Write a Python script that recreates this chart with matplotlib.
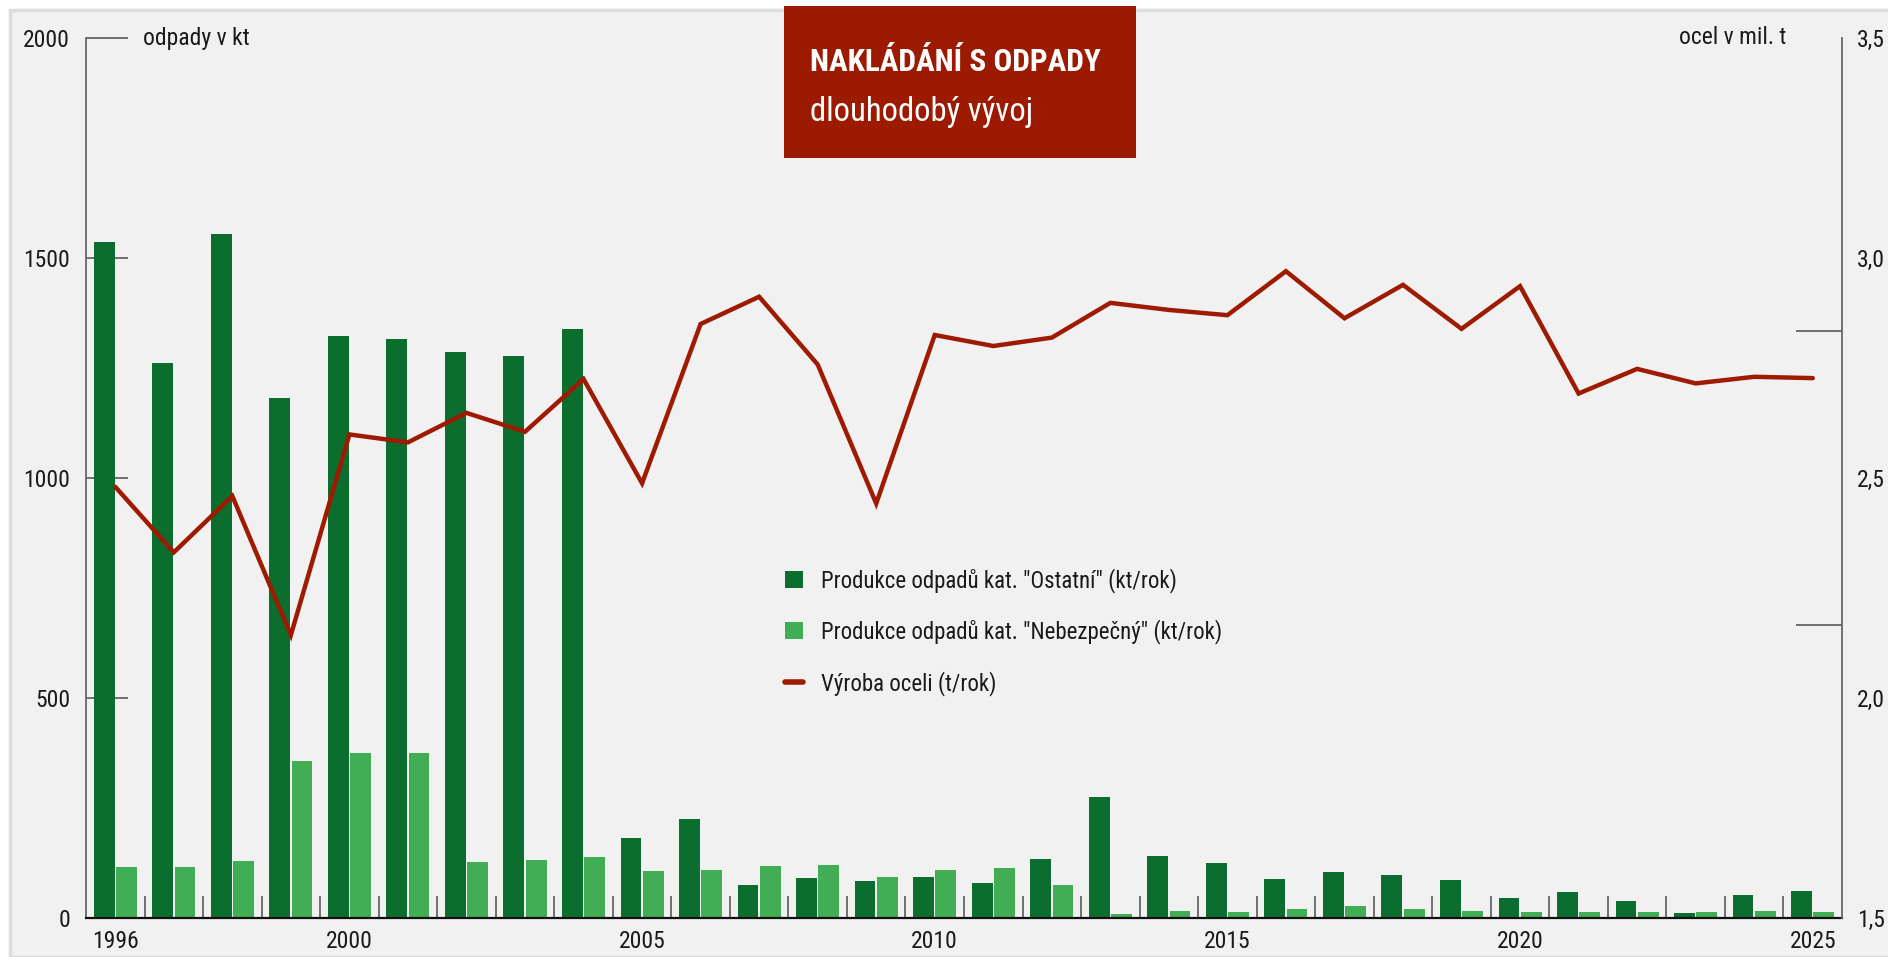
import matplotlib
matplotlib.use("Agg")
import matplotlib.pyplot as plt
from matplotlib import font_manager
from matplotlib.patches import Rectangle, Patch
from matplotlib.lines import Line2D
from matplotlib.ticker import FixedLocator

# data
years = list(range(1996, 2026))
ostatni = [1536, 1261, 1555, 1182, 1323, 1316, 1286, 1277, 1339, 182,
           225, 76, 92, 85, 94, 80, 135, 275, 142, 126,
           89, 105, 98, 87, 46, 58, 39, 12, 53, 62]
nebezpecny = [115, 117, 130, 357, 376, 376, 127, 131, 138, 106,
              110, 119, 121, 94, 110, 114, 76, 8, 17, 14,
              21, 28, 21, 17, 14, 14, 14, 14, 17, 14]
ocel = [2.480, 2.331, 2.459, 2.143, 2.599, 2.581, 2.648, 2.605, 2.725, 2.488,
        2.850, 2.912, 2.758, 2.442, 2.825, 2.800, 2.819, 2.898, 2.882, 2.870,
        2.970, 2.863, 2.939, 2.839, 2.936, 2.692, 2.748, 2.715, 2.730, 2.727]

year_labels = [1996, 2000, 2005, 2010, 2015, 2020, 2025]
left_ticks = [0, 500, 1000, 1500, 2000]
right_ticks = [1.5, 2.0, 2.5, 3.0, 3.5]

label_ostatni = 'Produkce odpadů kat. "Ostatní" (kt/rok)'
label_nebezp = 'Produkce odpadů kat. "Nebezpečný" (kt/rok)'
label_ocel = "Výroba oceli (t/rok)"

DARK = "#0b6e2e"
LIGHT = "#41ae55"
RED = "#9e1a00"
BG = "#f1f1f1"
AXC = "#666666"
TXT = "#1a1a1a"
FS = 17

# font: condensed if available
names = {f.name for f in font_manager.fontManager.ttflist}
for fam in ["Roboto Condensed", "Liberation Sans Narrow"]:
    if fam in names:
        plt.rcParams["font.family"] = [fam, "DejaVu Sans"]
        break
else:
    plt.rcParams["font.family"] = ["DejaVu Sans"]
    plt.rcParams["font.stretch"] = "condensed"

W, H = 1888, 957
fig = plt.figure(figsize=(W / 100, H / 100), dpi=100, facecolor="white")


def fx(px):
    return px / W


def fy(py):
    return 1 - py / H


# grey panel
fig.patches.append(Rectangle((fx(10), 0), 1, fy(10), transform=fig.transFigure,
                             facecolor=BG, edgecolor="#dcdcdc", linewidth=2.5, zorder=0))

ax = fig.add_axes([fx(86), fy(918), (1842 - 86) / W, (918 - 38) / H])
ax.set_zorder(1)
ax.patch.set_alpha(0)
ax.set_xlim(1995.5, 2025.5)
ax.set_ylim(0, 2000)

xs = [y - 0.19 for y in years]
xs2 = [y + 0.19 for y in years]
ax.bar(xs, ostatni, width=0.355, color=DARK, linewidth=0, zorder=2)
ax.bar(xs2, nebezpecny, width=0.355, color=LIGHT, linewidth=0, zorder=2)

for s in ["top", "right"]:
    ax.spines[s].set_visible(False)
ax.spines["left"].set_color(AXC)
ax.spines["left"].set_linewidth(1.3)
ax.spines["bottom"].set_color("#111111")
ax.spines["bottom"].set_linewidth(1.6)
ax.spines["bottom"].set_zorder(5)

ax.set_yticks(left_ticks)
ax.set_yticklabels([str(v) for v in left_ticks])
ax.tick_params(axis="y", direction="in", length=30, width=1.3, color=AXC,
               pad=11.5, labelsize=FS, labelcolor=TXT)
ax.set_xticks(year_labels)
ax.set_xticklabels([str(v) for v in year_labels])
ax.xaxis.set_minor_locator(FixedLocator([y + 0.5 for y in years[:-1]]))
ax.tick_params(axis="x", which="major", length=0, pad=9, labelsize=FS, labelcolor=TXT)
ax.tick_params(axis="x", which="minor", direction="in", length=16, width=1.3, color=AXC)

ax2 = ax.twinx()
ax2.set_zorder(2)
ax2.patch.set_visible(False)
ax2.set_ylim(1.5, 3.5)
ax2.plot(years, ocel, color=RED, linewidth=3.2, solid_joinstyle="miter",
         solid_capstyle="round", zorder=4)
for s in ["top", "left", "bottom"]:
    ax2.spines[s].set_visible(False)
ax2.spines["right"].set_color(AXC)
ax2.spines["right"].set_linewidth(1.3)
ax2.set_yticks(right_ticks)
ax2.set_yticklabels([f"{v:.1f}".replace(".", ",") for v in right_ticks])
ax2.yaxis.set_minor_locator(FixedLocator([1.5 + 2 / 3, 1.5 + 4 / 3, 3.5]))
ax2.tick_params(axis="y", which="major", length=0, pad=11, labelsize=FS, labelcolor=TXT)
ax2.tick_params(axis="y", which="minor", direction="in", length=33, width=1.3, color=AXC)

# axis titles
fig.text(fx(143), fy(38), "odpady v kt", fontsize=FS, color=TXT, ha="left", va="center")
fig.text(fx(1786), fy(38), "ocel v mil. t", fontsize=FS, color=TXT, ha="right", va="center")

# title box
fig.patches.append(Rectangle((fx(784), fy(158)), (1136 - 784) / W, (158 - 6) / H,
                             transform=fig.transFigure, facecolor="#9c1a00",
                             edgecolor="none", zorder=6))
fig.text(fx(810), fy(71), "NAKLÁDÁNÍ S ODPADY", fontsize=22.5, fontweight="bold",
         color="white", ha="left", va="baseline", zorder=7)
fig.text(fx(810), fy(121), "dlouhodobý vývoj", fontsize=23.5, color="white",
         ha="left", va="baseline", zorder=7)

# legend
handles = [Patch(facecolor=DARK, edgecolor="none"),
           Patch(facecolor=LIGHT, edgecolor="none"),
           Line2D([], [], color=RED, linewidth=4, solid_capstyle="round")]
leg = fig.legend(handles, [label_ostatni, label_nebezp, label_ocel],
                 loc="upper left", bbox_to_anchor=(fx(785), fy(568)),
                 frameon=False, fontsize=16.5, handlelength=0.8, handleheight=0.8,
                 handletextpad=0.75, labelspacing=1.15, borderpad=0, borderaxespad=0)
leg.set_zorder(8)
for t in leg.get_texts():
    t.set_color(TXT)

fig.savefig("out.png", dpi=100, facecolor="white")
